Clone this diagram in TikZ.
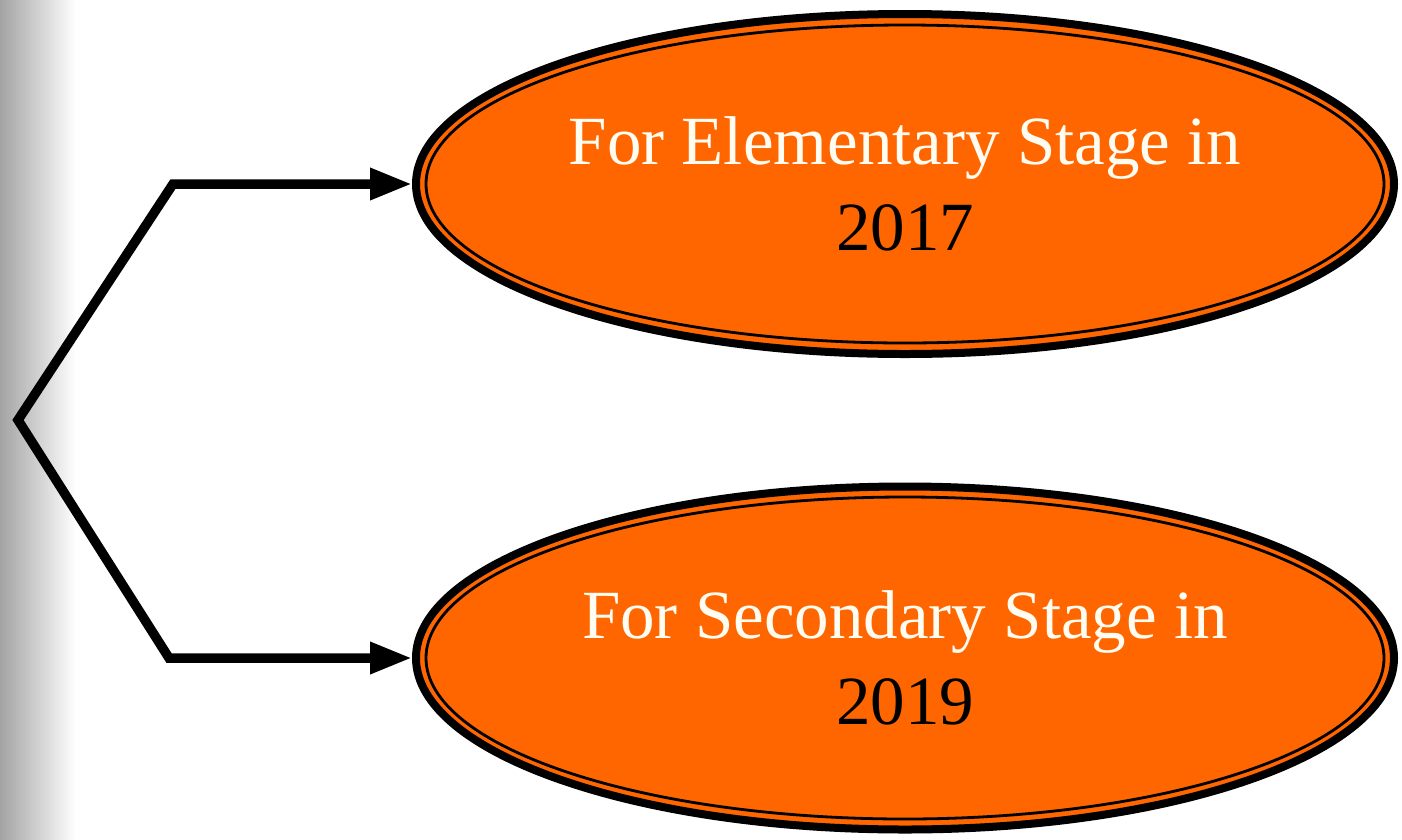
\documentclass[tikz,border=0pt]{standalone}
\usepackage{fontspec}
\setmainfont{Liberation Serif}
\usetikzlibrary{shapes.geometric,arrows.meta}
\definecolor{boxorange}{HTML}{FF6600}
\definecolor{cream}{HTML}{FFFCF2}
\tikzset{
  stagebox/.style={ellipse, draw=black, line width=8pt, fill=boxorange,
    minimum width=978pt, minimum height=340pt, inner sep=0pt, align=center,
    font=\fontsize{69}{86}\selectfont},
  innerring/.style={draw=black, line width=2.8pt},
  conn/.style={line width=9.5pt, line join=miter,
    {Triangle[length=42pt,width=30pt]}-{Triangle[length=42pt,width=30pt]}}
}
\begin{document}
\begin{tikzpicture}[x=1pt,y=-1pt]
\useasboundingbox (0,0) rectangle (1402,839);
\shade[left color=black!36, right color=white] (0,0) rectangle (76,839);
\node[stagebox] (e1) at (905,184) {\textcolor{cream}{For Elementary Stage in}\\2017};
\node[stagebox, minimum height=343pt] (e2) at (905,658) {\textcolor{cream}{For Secondary Stage in}\\2019};
\draw[innerring] (e1.center) ellipse [x radius=479, y radius=159];
\draw[innerring] (e2.center) ellipse [x radius=479, y radius=161];
\coordinate (tl) at (173,184);
\coordinate (v) at (18,420);
\coordinate (bl) at (169,658);
\draw[conn] (e1.west) -- (tl) -- (v) -- (bl) -- (e2.west);
\end{tikzpicture}
\end{document}
